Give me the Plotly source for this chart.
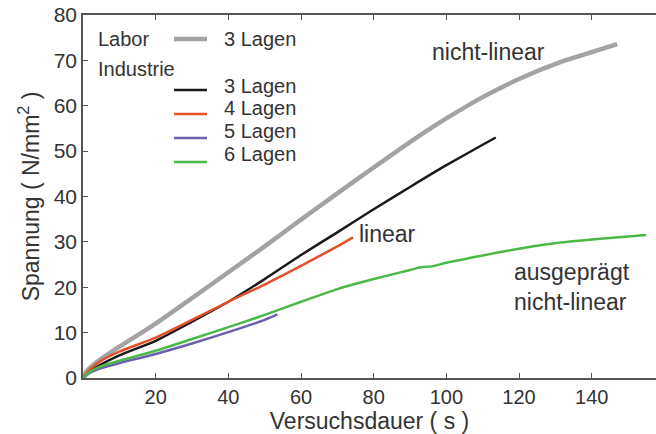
import plotly.graph_objects as go

# Labor, 3 Lagen (gray)
labor3_t = [0, 1, 3, 5, 10, 20, 30, 40, 50, 60, 70, 80, 90, 100, 110, 120, 131, 140, 147]
labor3_s = [0, 1.5, 3.0, 4.2, 6.9, 12.0, 17.6, 23.3, 29.0, 34.9, 40.7, 46.4, 52.0, 57.2, 61.9, 65.9, 69.5, 71.8, 73.6]

# Industrie
ind3_t = [0, 2, 5, 10, 20, 30, 40, 50, 60, 70, 80, 90, 100, 110, 113.6]
ind3_s = [0, 1.5, 3.0, 5.0, 8.2, 12.4, 16.8, 21.8, 27.1, 32.1, 37.2, 42.1, 46.9, 51.4, 53.0]

ind4_t = [0, 2, 5, 10, 20, 30, 40, 50, 60, 70, 74.3]
ind4_s = [0, 2.0, 3.8, 5.8, 8.9, 12.8, 16.8, 20.6, 24.7, 29.0, 31.0]

ind5_t = [0, 2, 5, 10, 20, 30, 40, 50, 53.5]
ind5_s = [0, 1.2, 2.2, 3.3, 5.3, 7.6, 10.1, 12.8, 14.0]

ind6_t = [0, 2, 5, 10, 20, 30, 40, 50, 60, 70, 80, 90, 93, 96, 100, 110, 120, 130, 140, 150, 155]
ind6_s = [0, 1.4, 2.6, 3.8, 6.0, 8.6, 11.2, 13.9, 16.8, 19.6, 21.8, 23.8, 24.4, 24.6, 25.4, 27.0, 28.5, 29.7, 30.5, 31.2, 31.5]

x_ticks = [20, 40, 60, 80, 100, 120, 140]
y_ticks = [0, 10, 20, 30, 40, 50, 60, 70, 80]

series = [
    ("Labor 3 Lagen", labor3_t, labor3_s, "#a3a3a3", 4.5),
    ("Industrie 3 Lagen", ind3_t, ind3_s, "#1a1a1a", 2.5),
    ("Industrie 4 Lagen", ind4_t, ind4_s, "#e2512b", 2.5),
    ("Industrie 5 Lagen", ind5_t, ind5_s, "#6a5fb0", 2.5),
    ("Industrie 6 Lagen", ind6_t, ind6_s, "#4cb848", 2.5),
]

FONT = "Liberation Sans, Arial, sans-serif"
TXT = "#333333"
AX = "#555555"

fig = go.Figure()
for name, t, s, c, w in series:
    fig.add_trace(go.Scatter(x=t, y=s, mode="lines", name=name,
                             line=dict(color=c, width=w, shape="spline", smoothing=0.6),
                             showlegend=False))

fig.update_layout(
    width=656, height=434,
    margin=dict(l=83, r=0, t=15, b=56),
    paper_bgcolor="white", plot_bgcolor="white",
    font=dict(family=FONT, color=TXT, size=20),
)
fig.update_xaxes(range=[0, 157.7], tickvals=x_ticks, ticks="inside", ticklen=5,
                 tickcolor=AX, showline=True, linecolor=AX, linewidth=1.5,
                 mirror="ticks", showgrid=False, zeroline=False,
                 tickfont=dict(size=20, color=TXT),
                 title=dict(text="Versuchsdauer ( s )", font=dict(size=23, color=TXT), standoff=1))
fig.update_yaxes(range=[0, 80], tickvals=y_ticks, ticks="inside", ticklen=5,
                 tickcolor=AX, showline=True, linecolor=AX, linewidth=1.5,
                 showgrid=False, zeroline=False,
                 tickfont=dict(size=21, color=TXT),
                 title=dict(text="Spannung ( N/mm<sup>2</sup> )", font=dict(size=23, color=TXT), standoff=8))

# annotations in the plot
fig.add_annotation(x=111.7, y=71.8, text="nicht-linear", showarrow=False,
                   xanchor="center", yanchor="middle", font=dict(size=23, color=TXT))
fig.add_annotation(x=75.3, y=31.7, text="linear", showarrow=False, xanchor="left",
                   yanchor="middle", font=dict(size=23, color=TXT))
fig.add_annotation(x=134.6, y=20.0, text="ausgeprägt<br>nicht-linear", showarrow=False,
                   xanchor="center", yanchor="middle",
                   font=dict(size=23, color=TXT), align="left")

# custom legend (paper coordinates relative to plot area)
W, H = 656 - 83, 434 - 15 - 56
def px(xp):
    return (xp - 83) / W
def py(yp):
    return 1 - (yp - 15) / H

fig.add_annotation(xref="paper", yref="paper", x=px(96), y=py(39), text="Labor",
                   showarrow=False, xanchor="left", yanchor="middle",
                   font=dict(size=20, color=TXT))
fig.add_annotation(xref="paper", yref="paper", x=px(96), y=py(69), text="Industrie",
                   showarrow=False, xanchor="left", yanchor="middle",
                   font=dict(size=20, color=TXT))
leg_rows = [(39, 39, series[0]), (86, 90, series[1]), (108, 114, series[2]),
            (131, 138, series[3]), (154, 162, series[4])]
for ty, ly, (name, t, s, c, w) in leg_rows:
    fig.add_shape(type="line", xref="paper", yref="paper", x0=px(174), x1=px(207),
                  y0=py(ly), y1=py(ly), line=dict(color=c, width=w))
    fig.add_annotation(xref="paper", yref="paper", x=px(222), y=py(ty),
                       text=name.split(" ", 1)[1], showarrow=False, xanchor="left",
                       yanchor="middle", font=dict(size=20, color=TXT))

fig.write_html("out.html")
